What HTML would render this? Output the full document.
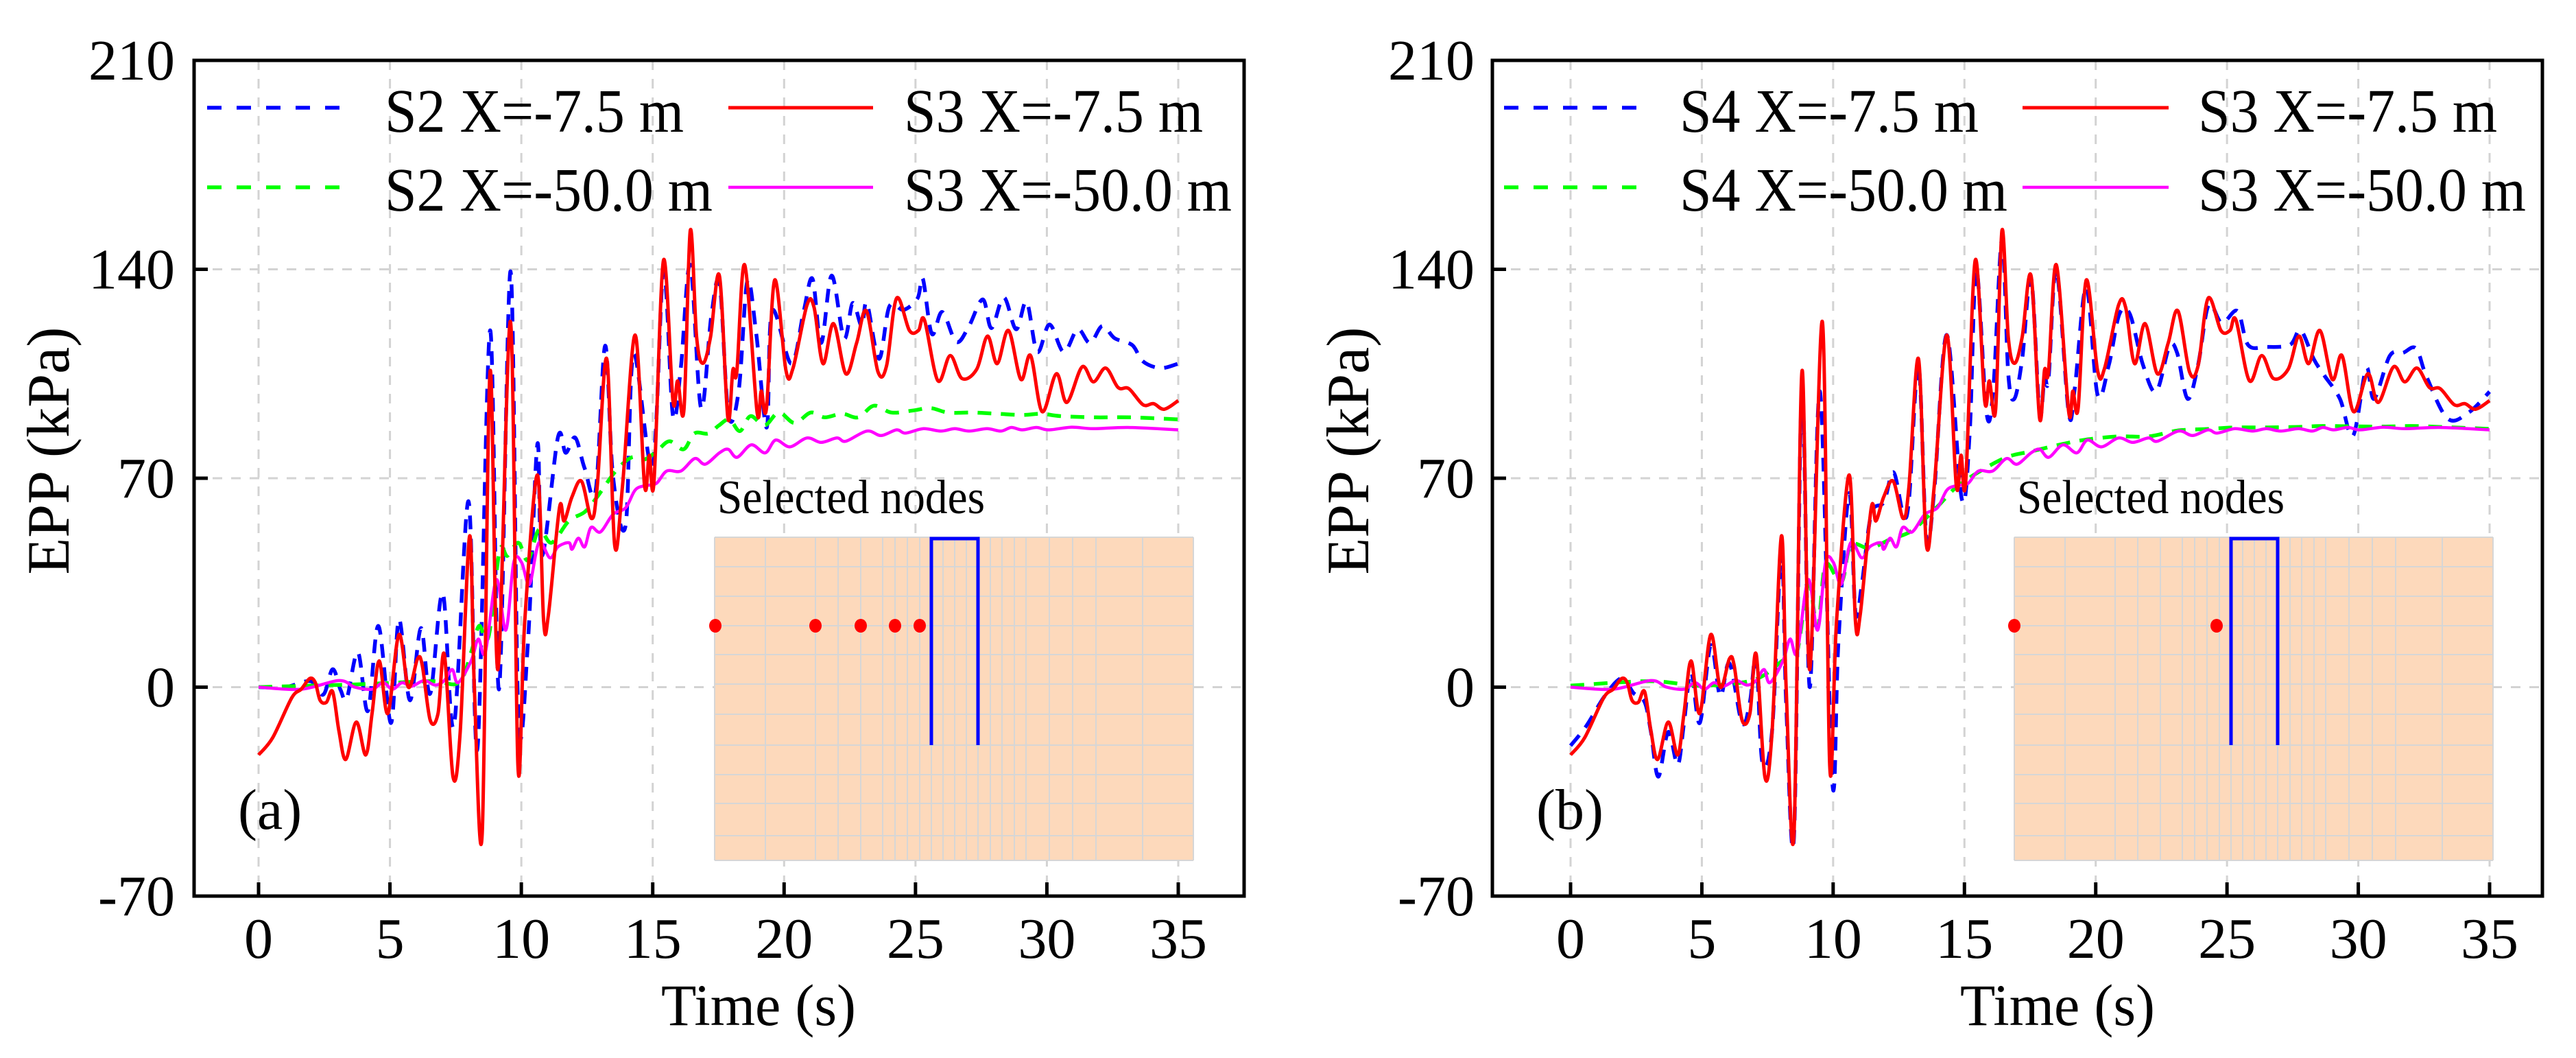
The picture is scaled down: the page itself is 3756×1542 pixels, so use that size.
<!DOCTYPE html>
<html><head><meta charset="utf-8"><title>EPP time histories</title>
<style>html,body{margin:0;padding:0;background:#fff;}svg{display:block;font-family:"Liberation Serif","Times New Roman",serif;}</style>
</head><body>
<svg id="fig" xmlns="http://www.w3.org/2000/svg" width="3756" height="1542" viewBox="0 0 3756 1542"></svg>
<script>
// ---- data (time s, EPP kPa) ----
const xTicks = [0,5,10,15,20,25,30,35];
const yTicks = [-70,0,70,140,210];
const s3NearT = [0,0.54,1.26,1.62,1.95,2.16,2.34,2.58,2.82,3.06,3.32,3.72,4.08,4.32,4.59,4.92,5.34,5.7,6.05,6.23,6.53,6.83,7.07,7.4,7.67,8.03,8.21,8.51,8.81,9.11,9.59,9.87,10.13,10.61,10.85,11.03,11.45,11.63,11.93,12.29,12.67,12.89,13.25,13.55,13.85,14.33,14.69,14.87,15.05,15.41,15.77,15.95,16.19,16.43,16.67,16.91,17.2,17.54,17.86,18.05,18.2,18.5,18.97,19.13,19.33,19.64,20.07,20.34,20.87,21.14,21.48,21.88,22.35,22.76,23.13,23.57,23.9,24.28,24.77,25.11,25.34,25.85,26.32,26.77,27.33,27.74,28.11,28.54,29.01,29.38,29.82,30.36,30.76,31.34,31.77,32.24,32.71,33.12,33.66,34.06,34.46,35];
const s3NearV = [-22.7,-16.9,-3.6,-0.7,2.9,1.5,-4.4,-5.1,-1.5,-14.7,-24.2,-11.7,-22.7,-8.8,8.8,-8.8,17.6,0,9.5,7.3,-11,-8.8,11,-30,-15.4,50.6,0,-49,105.6,5.9,122.4,-26.4,22,71.1,22,24.2,60,55.7,63.8,69,56.5,67.5,110,47.7,67.5,118,67.5,77.7,69,143,96,102.6,93.1,153,117.3,108.5,117.3,137.8,90.2,106.3,105.6,141.5,92.3,99.2,93.5,136.4,106.1,106.9,128,127.2,108.4,121.8,105,115.3,126.1,105.7,107.7,130.3,119.5,119.5,123,102.7,111.1,103.4,106.5,117.6,108.4,119.5,103.1,111.1,92.3,105,95.4,107.3,102.3,106.9,100.4,100,94.6,95,93.1,96];
const s3FarT = [0,1.62,3.06,3.66,4.32,4.74,5.1,5.46,5.82,6.3,6.72,7.07,7.37,7.59,8.09,8.36,8.63,9.05,9.41,9.71,10.01,10.31,10.67,11.09,11.39,11.81,11.93,12.17,12.41,12.65,13.01,13.49,13.97,14.33,14.69,15.13,15.53,16.07,16.6,17,17.54,17.87,18.21,18.75,19.28,19.68,20.22,20.87,21.41,22.01,22.35,23.15,23.69,24.28,24.62,25.3,25.97,26.5,27.04,27.72,28.25,28.65,29.06,29.6,30.07,30.94,31.75,33.09,35];
const s3FarV = [0,-0.7,2.2,0,-0.7,1.5,-0.7,1.5,0.3,2.2,0.7,2.2,5.9,1.5,8.8,16.1,11.7,36,19.1,41.8,41.8,34.5,48.4,43.3,47,48.4,46.2,49.9,47,53.5,52,57.9,60.1,66,67.5,68.2,72.4,72.4,76.6,74.7,78.5,79.7,77,81.2,78.5,82.8,80.5,83.5,82,83.5,82.4,85.8,84.3,86.2,85.1,86.6,85.8,86.6,85.8,86.6,85.8,87,86.2,87,86.2,87.1,86.6,87,86.2];
const s2NearT = [0,1.02,1.98,2.46,2.82,3.12,3.36,3.78,4.16,4.56,5.04,5.34,5.76,6.18,6.53,7.01,7.43,7.99,8.33,8.81,9.15,9.59,9.89,10.25,10.61,10.79,11.39,11.69,12.05,12.41,12.83,13.19,13.49,13.97,14.27,14.99,15.41,15.77,16.07,16.43,16.84,17.23,17.55,17.88,18.27,18.6,18.94,19.34,19.54,20.27,20.74,21.08,21.41,21.81,22.28,22.61,22.95,23.15,23.61,24.01,24.55,25.08,25.28,25.62,26.02,26.55,27.02,27.56,27.89,28.36,28.83,29.23,29.63,30.1,30.64,31.17,31.64,32.11,32.58,33.25,33.65,34.32,35];
const s2NearV = [0,0,2,-2.5,6,-0.9,-3.7,11.7,-8,20.5,-12,22.7,-4.4,19.8,-2.2,31.5,-13.2,62.3,-20.5,119.5,-0.7,139.3,-10.3,14.7,81.4,44,83.6,78.5,83.6,73.3,66,114.4,70.4,54.3,111.5,74,139.3,91,107,141.5,93.5,124.5,134.9,91.2,99.2,136,118.4,87,126,108.4,125.7,136.8,115.3,137.9,116.9,128.7,121,128.7,110,127.6,126.4,130.3,136.8,118.4,125.7,115.7,120.7,129.9,120.3,130.6,119.9,129.1,112.3,121.5,112.3,119.9,115.3,121,116.9,114.6,109.2,106.9,108.4];
const s2FarT = [0,2,4,6.53,7.61,8.09,8.39,8.75,9.17,9.47,9.89,10.25,10.67,11.15,11.81,12.41,12.89,13.61,14.21,14.69,15.17,15.64,16.18,16.58,17.12,17.52,17.92,18.32,18.72,19.26,19.8,20.4,21.01,21.54,22.21,22.82,23.42,24.09,24.9,25.57,26.24,27.18,28.11,29.05,29.79,30.52,31.87,33.21,35];
const s2FarV = [0,0.5,1,2,1.5,11.7,20.5,16.9,45.5,44,48.4,42.5,52.8,48.4,55.7,58.7,63.8,72.6,77,76.3,79.2,82.4,79.7,85,85,87.7,89.7,85.8,90.8,87.7,92,88.5,92,90.4,91.6,90.4,94.3,92,92.7,93.5,92,92,91.6,91.2,91.6,90.8,90.4,90.4,89.7];
const s4NearT = [0,0.6,1.3,1.95,2.4,2.82,3.06,3.34,3.72,4.08,4.32,4.59,4.92,5.34,5.7,6.05,6.53,6.83,7.07,7.3,7.67,8.03,8.21,8.51,8.81,9.11,9.5,9.97,10.2,10.61,10.85,11.1,11.45,11.93,12.3,12.67,12.89,13.25,13.55,13.85,14.33,14.9,15.2,15.45,15.84,16.1,16.43,16.67,16.9,17.2,17.54,17.86,18.05,18.2,18.5,18.97,19.2,19.64,20.07,20.5,20.9,21.3,21.8,22.3,22.8,23.1,23.5,23.9,24.3,24.8,25.4,25.8,26.5,27.4,27.8,28.3,28.7,29.3,29.8,30.3,30.6,31.2,31.7,32.2,32.6,33.4,34.2,35];
const s4NearV = [-19.6,-13,-3,3,-2,-5,-15,-30,-15,-26,-12,5,-12,14,-3,8,-12,-5,10,-25,-15,45,-5,-50,100,0,99,-32,15,65,25,35,58,62,72,58,63,108,50,66,118,63,85,140,92,100,150,105,96.6,110,137,92,104,103,140,92,100,134,98,108,125,125,108,99,114,112,96.6,108,128,122,126,114.7,114,114.7,119.6,110,104.5,96.6,84.2,106.8,96.6,111,112,113.5,104,90,92,99];
const s4FarT = [0,3,5,7,8.09,8.63,9.05,9.41,9.71,10.31,10.67,11.39,12.17,13.01,13.97,14.69,15.53,16.6,17.54,18.75,19.68,20.87,22.01,23.15,24.28,25.3,26.5,27.72,28.65,29.6,30.94,32,33.09,35];
const s4FarV = [0.5,2,0.5,2.5,9,12,35,20,41,35,47.5,46.5,49.5,52.5,60.5,67,72,77,79,81.5,83,84,84,86,86.5,87,87,87.2,87.5,87.4,87.3,87.5,87.2,86.5];

const NS = "http://www.w3.org/2000/svg";
const svg = document.getElementById('fig');
function mk(tag, attrs, parent){ const e=document.createElementNS(NS,tag); for(const k in attrs) e.setAttribute(k,attrs[k]); (parent||svg).appendChild(e); return e; }

const Y0 = 88, Y1 = 1306;
function yScale(v){ return Y0 + (210 - v) * (Y1 - Y0) / 280; }

function smoothPath(pts){
  let d = 'M' + pts[0][0].toFixed(1) + ',' + pts[0][1].toFixed(1);
  for(let i=0;i<pts.length-1;i++){
    const p0=pts[Math.max(0,i-1)], p1=pts[i], p2=pts[i+1], p3=pts[Math.min(pts.length-1,i+2)];
    const c1x=p1[0]+(p2[0]-p0[0])/6, c1y=p1[1]+(p2[1]-p0[1])/6;
    const c2x=p2[0]-(p3[0]-p1[0])/6, c2y=p2[1]-(p3[1]-p1[1])/6;
    d += ' C'+c1x.toFixed(1)+','+c1y.toFixed(1)+' '+c2x.toFixed(1)+','+c2y.toFixed(1)+' '+p2[0].toFixed(1)+','+p2[1].toFixed(1);
  }
  return d;
}

const panels = [
  { id:'a', L:283, R:1814, x0:377, x35:1718, ylabX:100, ylabY:657, yTickR:255, timeX:1106, tag:'(a)', tagX:347,
    series:[
      {name:'S2 X=-7.5 m', key:'s2-near', t:s2NearT, v:s2NearV, color:'#0000ff', dash:'20,14', w:5.5},
      {name:'S2 X=-50.0 m', key:'s2-far', t:s2FarT, v:s2FarV, color:'#00ff00', dash:'20,14', w:5.5},
      {name:'S3 X=-7.5 m', key:'s3-near', t:s3NearT, v:s3NearV, color:'#ff0000', dash:null, w:5},
      {name:'S3 X=-50.0 m', key:'s3-far', t:s3FarT, v:s3FarV, color:'#ff00ff', dash:null, w:4.5}],
    drawOrder:[0,1,3,2],
    leg:[[302,498,561],[1062,1273,1318]], inset:1042, dots:[1043,1189,1255,1305,1341] },
  { id:'b', L:2176, R:3707, x0:2290, x35:3630, ylabX:1995, ylabY:657, yTickR:2150, timeX:3000, tag:'(b)', tagX:2240,
    series:[
      {name:'S4 X=-7.5 m', key:'s4-near', t:s4NearT, v:s4NearV, color:'#0000ff', dash:'20,14', w:5.5},
      {name:'S4 X=-50.0 m', key:'s4-far', t:s4FarT, v:s4FarV, color:'#00ff00', dash:'20,14', w:5.5},
      {name:'S3 X=-7.5 m', key:'s3-near', t:s3NearT, v:s3NearV, color:'#ff0000', dash:null, w:5},
      {name:'S3 X=-50.0 m', key:'s3-far', t:s3FarT, v:s3FarV, color:'#ff00ff', dash:null, w:4.5}],
    drawOrder:[0,1,3,2],
    leg:[[2193,2390,2449],[2949,3162,3205]], inset:2937, dots:[2937,3232] }
];

const insetCols = [0,74,147,180,213,245,263,281,299,316,333,350,367,384,402,419,437,454,488,522,556,624,698];
const insetRows = [783,826,869,912,954,997,1041,1086,1129,1171,1218,1254];

panels.forEach(P=>{
  const xs = t => P.x0 + t*(P.x35-P.x0)/35;
  const g = mk('g',{});
  
  
  const clipId='clip-'+P.id;
  const cp = mk('clipPath',{id:clipId},g); mk('rect',{x:P.L,y:Y0,width:P.R-P.L,height:Y1-Y0},cp);
  const grid = mk('g',{stroke:'#d3d3d3','stroke-width':3,'stroke-dasharray':'14,13'},g);
  
  
  xTicks.forEach(t=>{ mk('line',{x1:xs(t),x2:xs(t),y1:Y0,y2:Y1},grid); });
  yTicks.forEach(v=>{ if(v>-70&&v<210) mk('line',{x1:P.L,x2:P.R,y1:yScale(v),y2:yScale(v)},grid); });
  const sg = mk('g',{'clip-path':'url(#'+clipId+')'},g);
  P.drawOrder.forEach(i=>{
    const s=P.series[i];
    const n=Math.min(s.t.length,s.v.length);
    const pts=[]; for(let k=0;k<n;k++) pts.push([xs(s.t[k]), yScale(s.v[k])]);
    const p = mk('path',{d:smoothPath(pts),fill:'none',stroke:s.color,'stroke-width':s.w,'stroke-linejoin':'round'},sg);
    if(s.dash) p.setAttribute('stroke-dasharray',s.dash);
    
    
  });
  const ig = mk('g',{},g);
  
  
  const ix=P.inset;
  mk('rect',{x:ix,y:783,width:698,height:471,fill:'#fdd9bb'},ig);
  insetCols.forEach(c=>{ mk('line',{x1:ix+c,x2:ix+c,y1:783,y2:1254,stroke:'#d6d6d6','stroke-width':2},ig); });
  insetRows.forEach(r=>{ mk('line',{x1:ix,x2:ix+698,y1:r,y2:r,stroke:'#d6d6d6','stroke-width':2},ig); });
  const pile = mk('path',{d:'M'+(ix+316)+',1086 V785 H'+(ix+384)+' V1086',fill:'none',stroke:'#0000ff','stroke-width':5},ig);
  
  
  P.dots.forEach(dx=>{
    const c=mk('ellipse',{cx:dx,cy:912,rx:9,ry:10,fill:'#ff0000'},ig);
    
    
  });
  const st=mk('text',{x:ix+4,y:748,'font-size':70,textLength:390,lengthAdjust:'spacingAndGlyphs'},g);
  st.textContent='Selected nodes';
  
  
  const ax = mk('g',{stroke:'#000','stroke-width':5,fill:'none'},g);
  
  
  mk('rect',{x:P.L,y:Y0,width:P.R-P.L,height:Y1-Y0},ax);
  xTicks.forEach(t=>{ mk('line',{x1:xs(t),x2:xs(t),y1:Y1,y2:Y1-20},ax); });
  yTicks.forEach(v=>{ mk('line',{x1:P.L,x2:P.L+20,y1:yScale(v),y2:yScale(v)},ax); });
  xTicks.forEach(t=>{
    const tx=mk('text',{x:xs(t),y:1396,'font-size':84,'text-anchor':'middle'},g);
    tx.textContent=String(t);
    
    
  });
  yTicks.forEach(v=>{
    const ty=mk('text',{x:P.yTickR,y:yScale(v)+28,'font-size':84,'text-anchor':'end'},g);
    ty.textContent=String(v);
    
    
  });
  const xt=mk('text',{x:P.timeX,y:1494,'font-size':86,'text-anchor':'middle',textLength:284,lengthAdjust:'spacingAndGlyphs'},g);
  xt.textContent='Time (s)';
  
  
  const yt=mk('text',{x:0,y:0,'font-size':88,'text-anchor':'middle',transform:'translate('+P.ylabX+','+P.ylabY+') rotate(-90)'},g);
  yt.textContent='EPP (kPa)';
  
  
  const tg=mk('text',{x:P.tagX,y:1208,'font-size':84},g);
  tg.textContent=P.tag;
  
  
  const lg=mk('g',{},g);
  
  
  P.series.forEach((s,i)=>{
    const col=Math.floor(i/2), row=i%2;
    const ly=[157,273][row], by=[192,307][row];
    const L=P.leg[col];
    const e=mk('g',{},lg);
    
    
    const ln=mk('line',{x1:L[0],x2:L[1],y1:ly,y2:ly,stroke:s.color,'stroke-width':s.w},e);
    if(s.dash) ln.setAttribute('stroke-dasharray','21,22');
    const tx=mk('text',{x:L[2],y:by,'font-size':90,textLength:(s.name.indexOf('50.0')>=0?478:436),lengthAdjust:'spacingAndGlyphs'},e);
    tx.textContent=s.name;
  });
});
</script>
</body></html>
